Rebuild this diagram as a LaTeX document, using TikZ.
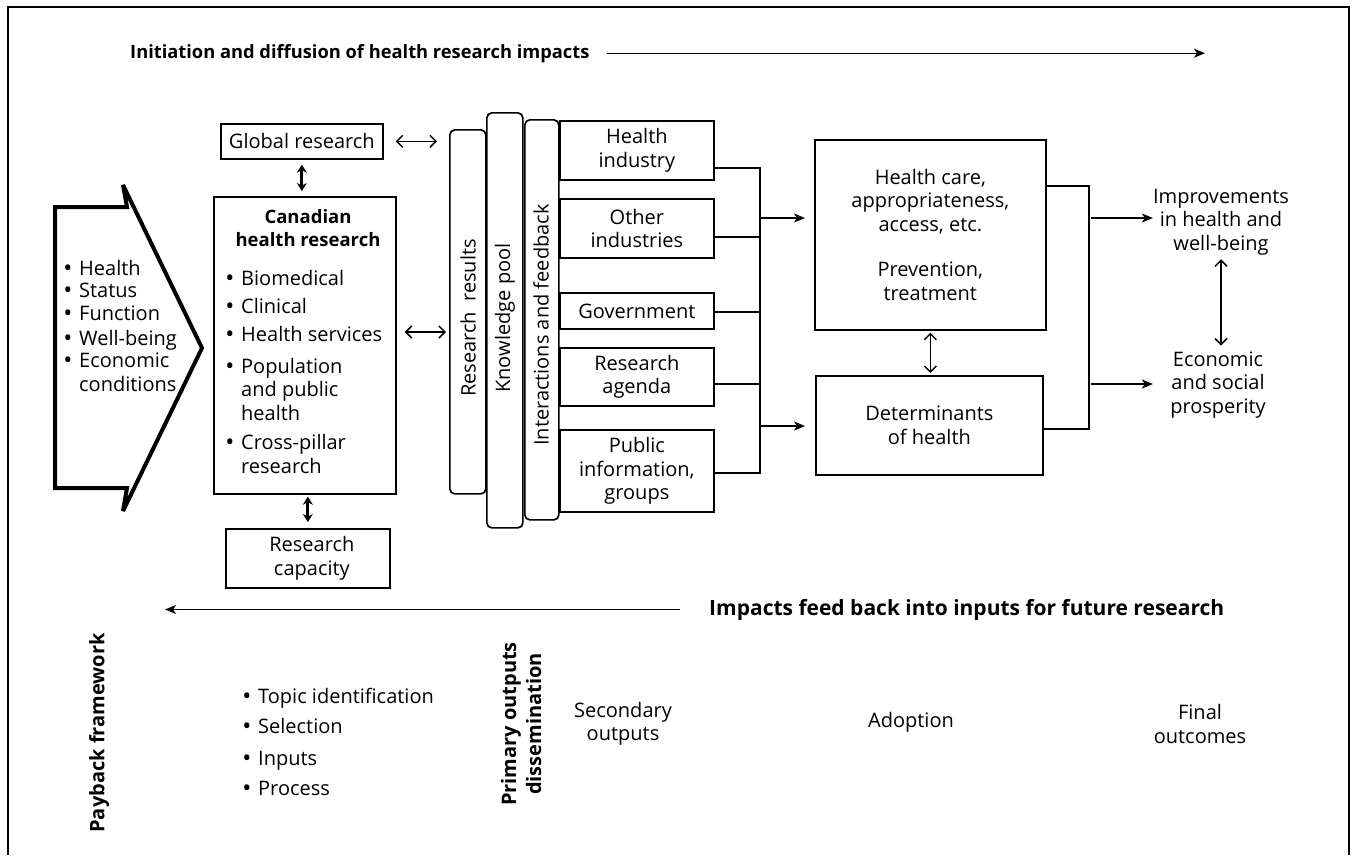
\documentclass[tikz,border=0pt]{standalone}
\usepackage{fontspec}
\usepackage{graphicx}
\setmainfont{Open Sans}
\usetikzlibrary{arrows.meta}
\begin{document}
\begin{tikzpicture}[x=1pt,y=-1pt,
  every node/.style={inner sep=0pt, font=\fontsize{20}{23.5}\selectfont},
  box/.style={draw, line width=1.7pt, anchor=north west, align=center},
  bar/.style={draw, line width=1.7pt, rounded corners=5pt, anchor=north west},
  conn/.style={line width=1.8pt},
  arr/.style={line width=1.2pt, -{Stealth[length=11pt,width=9pt,inset=3pt]}},
  barb/.style={line width=1.5pt, {Straight Barb[length=6pt,width=12pt]}-{Straight Barb[length=6pt,width=12pt]}},
  boldarr/.style={line width=2.8pt, {Stealth[length=8pt,width=10pt]}-{Stealth[length=8pt,width=10pt]}},
  btitle/.style={font=\bfseries\fontsize{18.5}{23.5}\selectfont},
  bigbold/.style={font=\bfseries\fontsize{20}{25}\selectfont},
  rot/.style={rotate=90},
  itm/.style={anchor=base west},
  blt/.style={anchor=base, font=\fontsize{24}{24}\selectfont, text height=13pt, text depth=0pt},
]
\useasboundingbox (0,0) rectangle (1356,855);
% frame
\draw[line width=1.8pt] (8,855) -- (8,7) -- (1349,7) -- (1349,855);

% titles
\node[anchor=base west, font=\bfseries\fontsize{18.3}{20}\selectfont] (ttop) at (130,58)
  {Initiation and diffusion of health research impacts};
\coordinate (ttopend) at (1205,52);
\draw[arr, shorten <=17pt] (ttop.east) -- (ttop.east -| ttopend);

\node[anchor=base west, font=\bfseries\fontsize{21}{25}\selectfont] (tfb) at (709,615)
  {Impacts feed back into inputs for future research};
\coordinate (fbend) at (165,608);
\draw[arr, shorten <=29pt] (tfb.west) -- (tfb.west -| fbend);

% chevron
\draw[line width=4pt, line join=miter, miter limit=3] (55,207) -- (127,207) -- (123,185) -- (202,348) -- (123,511) -- (127,488) -- (55,488) -- cycle;
\foreach \t/\y [count=\i] in {Health/275, Status/297, Function/320, Well-being/345, Economic/367} {
  \node[blt] (chb\i) at (68,\y+1) {•};
  \node[itm] (cht\i) at (79,\y) {\t};
}
\node[itm] (cht6) at (79,391) {conditions};

% left column boxes
\node[box, minimum width=162pt, minimum height=35pt] (glob) at (220,123) {Global research};
\node[box, minimum width=182pt, minimum height=297pt] (can) at (213,196) {};
\node[box, minimum width=164pt, minimum height=59pt] (cap) at (225,528) {\hspace*{8pt}Research\\\hspace*{8pt}capacity};

\node[anchor=base, btitle] (cant1) at (308,223) {Canadian};
\node[anchor=base, btitle] (cant2) at (308,246) {health research};
\foreach \t/\y [count=\i] in {Biomedical/285, Clinical/313, Health services/341, Population/373, Cross-pillar/449} {
  \node[blt] (cb\i) at (230,\y+1) {•};
  \node[itm] (ct\i) at (241,\y) {\t};
}
\node[itm] (ct6) at (241,396) {and public};
\node[itm] (ct7) at (241,420) {health};
\node[itm] (ct8) at (241,473) {research};

\draw[boldarr, shorten <=5pt, shorten >=5pt] (glob.south) -- (glob.south |- can.north);
\draw[boldarr, shorten <=2pt, shorten >=6pt] (can.south -| cap.north) -- (cap.north);

% bars
\node[bar, minimum width=36pt, minimum height=364pt] (rr) at (449,129) {};
\node[bar, minimum width=36pt, minimum height=415pt] (kp) at (486,112) {};
\node[bar, minimum width=34pt, minimum height=400pt] (ifb) at (524,119) {};
\node[rot] (rrt) at (468,318) {Research\ \ results};
\node[rot] (kpt) at (505,318) {Knowledge pool};
\node[rot] (ift) at (541,325) {Interactions and feedback};

\draw[barb, shorten <=12pt, shorten >=12pt] (glob.east) -- (glob.east -| rr.west);
\coordinate (c332) at (400,332);
\draw[barb, shorten <=8pt, shorten >=3pt] (can.east |- c332) -- (c332 -| rr.west);

% sector boxes
\node[box, minimum width=154pt, minimum height=59pt] (hi) at (559,120) {Health\\industry};
\node[box, minimum width=154pt, minimum height=59pt] (oi) at (559,198) {Other\\industries};
\node[box, minimum width=154pt, minimum height=36pt] (gov) at (559,292) {Government};
\node[box, minimum width=154pt, minimum height=58pt] (ra) at (559,347) {Research\\agenda};
\node[box, minimum width=154pt, minimum height=82pt] (pi) at (559,429) {Public\\information,\\groups};

\coordinate (bus1) at (760,168);
\coordinate (bus2) at (760,237);
\coordinate (bus3) at (760,312);
\coordinate (bus4) at (760,384);
\coordinate (bus5) at (760,473);
\draw[conn] (hi.east |- bus1) -- (bus1) -- (bus5) -- (pi.east |- bus5);
\draw[conn] (oi.east |- bus2) -- (bus2);
\draw[conn] (gov.east |- bus3) -- (bus3);
\draw[conn] (ra.east |- bus4) -- (bus4);

% adoption boxes
\node[box, minimum width=231pt, minimum height=190pt] (hc) at (814,139)
  {Health care,\\appropriateness,\\access, etc.\\[22pt]Prevention,\\treatment};
\node[box, minimum width=227pt, minimum height=99pt] (det) at (815,375) {Determinants\\of health};

\coordinate (ba1) at (760,218);
\coordinate (ba2) at (760,426);
\draw[arr, shorten >=9pt] (ba1) -- (ba1 -| hc.west);
\draw[arr, shorten >=10pt] (ba2) -- (ba2 -| det.west);
\draw[barb, shorten <=2pt, shorten >=2pt] (hc.south) -- (hc.south |- det.north);

% outcomes
\node[align=center] (imp) at (1221,222) {Improvements\\in health and\\well-being};
\node[align=center] (eco) at (1218,385) {Economic\\and social\\prosperity};

\coordinate (r1) at (1089,186);
\coordinate (r2) at (1089,429);
\draw[conn, line width=1.4pt] (r1 -| hc.east) -- (r1) -- (r2) -- (r2 -| det.east);
\coordinate (ra1) at (1091,218);
\coordinate (ra2) at (1091,384);
\draw[arr] (ra1) -- (ra1 -| imp.west);
\draw[arr] (ra2) -- (ra2 -| imp.west);
\draw[barb, shorten <=4pt, shorten >=6pt] (imp.south) -- (imp.south |- eco.north);

% payback framework row
\node[rot, bigbold] (pay) at (99,733) {Payback framework};
\foreach \t/\y [count=\i] in {Topic identification/703, Selection/733, Inputs/765, Process/795} {
  \node[blt] (pb\i) at (247,\y+1) {•};
  \node[itm] (pt\i) at (258,\y) {\t};
}
\node[rot, bigbold, align=center] (prim) at (521,724) {Primary outputs\\dissemination};
\node[align=center] (sec) at (623,724) {Secondary\\outputs};
\node (adop) at (911,722) {Adoption};
\node[align=center] (fin) at (1200,724) {Final\\outcomes};
\end{tikzpicture}
\end{document}
